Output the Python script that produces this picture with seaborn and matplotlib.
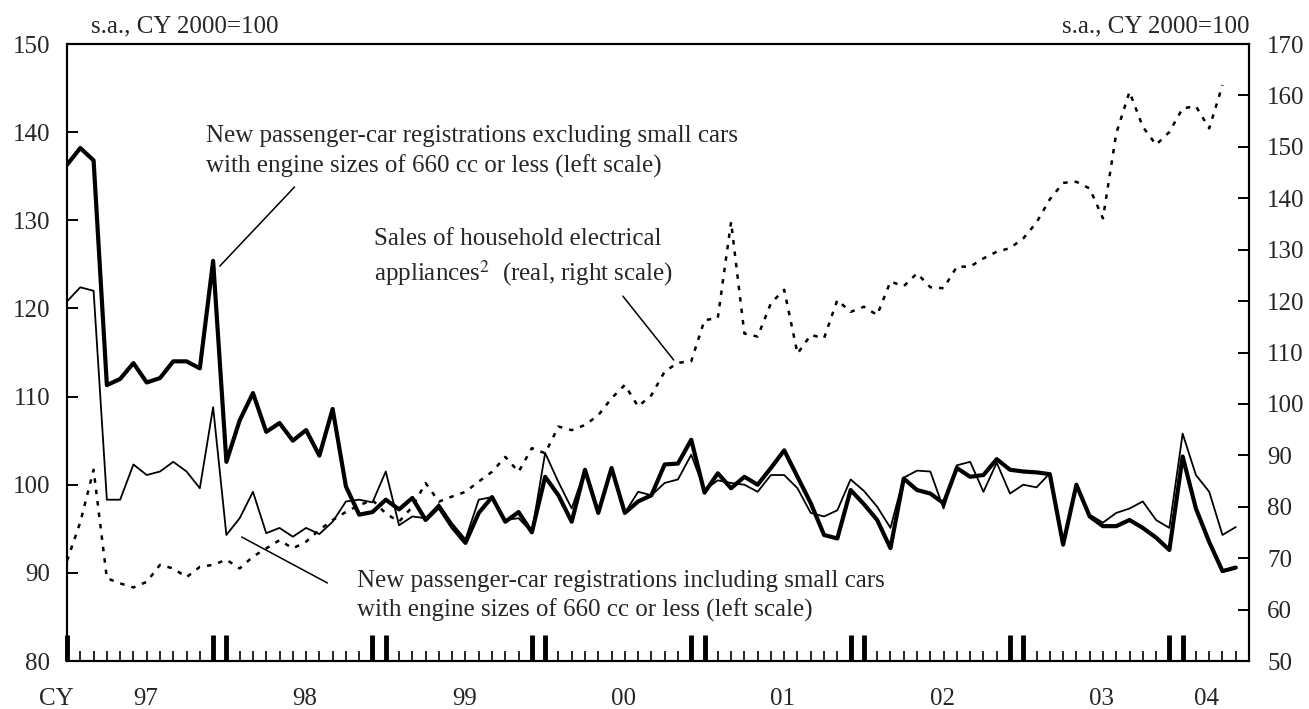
import numpy as np
import pandas as pd
import matplotlib
matplotlib.use("Agg")
import matplotlib.pyplot as plt
import seaborn as sns

# Monthly data, Jan 1997 onwards (s.a., CY 2000=100)
years = ["97", "98", "99", "00", "01", "02", "03", "04"]

excl_small = [
    136.3, 138.2, 136.8, 111.3, 112.0, 113.8, 111.6, 112.1, 114.0, 114.0, 113.2, 125.4,
    102.6, 107.3, 110.4, 106.0, 107.0, 105.0, 106.2, 103.3, 108.6, 99.8, 96.6, 96.9,
    98.3, 97.2, 98.5, 96.0, 97.5, 95.2, 93.4, 96.8, 98.6, 95.8, 96.9, 94.6,
    100.9, 98.8, 95.8, 101.7, 96.8, 101.9, 96.8, 98.1, 98.8, 102.3, 102.4, 105.1,
    99.1, 101.3, 99.6, 100.9, 100.0, 101.9, 103.9, 100.9, 97.9, 94.3, 93.9, 99.4,
    97.8, 96.0, 92.8, 100.7, 99.4, 99.0, 97.9, 101.9, 100.9, 101.1, 102.9, 101.7,
    101.5, 101.4, 101.2, 93.2, 100.0, 96.4, 95.3, 95.3, 96.0, 95.1, 94.0, 92.6,
    103.2, 97.3, 93.5, 90.2, 90.6,
]

incl_small = [
    120.8, 122.4, 122.0, 98.3, 98.3, 102.3, 101.1, 101.5, 102.6, 101.5, 99.6, 108.8,
    94.3, 96.2, 99.2, 94.5, 95.1, 94.1, 95.1, 94.4, 95.8, 98.1, 98.3, 98.0,
    101.5, 95.4, 96.4, 96.2, 97.8, 95.6, 93.8, 98.3, 98.6, 96.0, 96.2, 94.6,
    103.6, 100.3, 97.3, 101.7, 96.8, 101.9, 96.8, 99.2, 98.8, 100.2, 100.6, 103.4,
    99.4, 100.5, 100.2, 100.0, 99.2, 101.1, 101.1, 99.6, 96.8, 96.4, 97.1, 100.6,
    99.3, 97.5, 95.1, 100.8, 101.6, 101.5, 97.3, 102.2, 102.6, 99.2, 102.5, 99.0,
    100.0, 99.7, 101.3, 93.2, 100.0, 96.6, 95.7, 96.8, 97.3, 98.1, 96.0, 95.1,
    105.8, 101.1, 99.2, 94.3, 95.2,
]

appliances = [
    69.5, 77.0, 87.2, 66.1, 65.1, 64.3, 65.4, 68.7, 68.0, 66.3, 68.3, 68.7,
    69.7, 68.0, 70.3, 71.9, 73.5, 71.9, 73.2, 75.5, 77.4, 79.0, 80.3, 81.3,
    78.7, 77.1, 80.0, 84.6, 81.0, 82.0, 82.9, 84.9, 86.8, 89.7, 86.8, 91.4,
    90.4, 95.6, 94.9, 95.9, 97.8, 101.1, 103.7, 99.5, 101.7, 106.3, 108.0, 108.3,
    116.3, 116.7, 135.4, 113.7, 113.1, 119.6, 122.2, 109.8, 113.4, 112.8, 120.2, 117.9,
    118.9, 117.3, 123.8, 122.9, 125.4, 122.7, 122.5, 126.7, 126.7, 128.3, 129.6, 130.3,
    132.2, 135.3, 139.8, 143.0, 143.2, 141.9, 136.1, 152.6, 160.7, 153.9, 150.4, 152.9,
    157.5, 157.9, 153.6, 162.0,
]

months = np.arange(len(excl_small))
cars = pd.DataFrame({"month": months, "excl": excl_small, "incl": incl_small})
elec = pd.DataFrame({"month": months[:len(appliances)], "sales": appliances})

sns.set_style("ticks")
plt.rcParams["font.family"] = ["Liberation Serif", "DejaVu Serif"]
plt.rcParams["font.size"] = 18
plt.rcParams["mathtext.fontset"] = "stix"

fig = plt.figure(figsize=(13.09, 7.09), dpi=100)
ax = fig.add_axes([0.0512, 0.0677, 0.9030, 0.8702])
ax2 = ax.twinx()

sns.lineplot(data=cars, x="month", y="incl", ax=ax, color="black", linewidth=1.3)
sns.lineplot(data=cars, x="month", y="excl", ax=ax, color="black", linewidth=3.0)
sns.lineplot(data=elec, x="month", y="sales", ax=ax2, color="black",
             linewidth=1.8, linestyle=(0, (1.8, 2.8)))

ax.set_xlim(0, 89)
ax.set_ylim(80, 150)
ax.set_yticks(range(80, 151, 10))
ax2.set_ylim(50, 170)
ax2.set_yticks(range(50, 171, 10))
for a in (ax, ax2):
    a.set_xlabel("")
    a.set_ylabel("")
    for s in a.spines.values():
        s.set_linewidth(1.5)
        s.set_color("black")

# year boundaries get thick double ticks, other months small ticks
big = [0] + [m for k in range(1, 8) for m in (12 * k - 1, 12 * k)]
ax.set_xticks(big)
ax.set_xticks([m for m in range(1, 89) if m not in big], minor=True)
ax.tick_params(axis="x", which="major", direction="in", length=19, width=3.5,
               labelbottom=False, color="black")
ax.tick_params(axis="x", which="minor", direction="in", length=7, width=1.2,
               color="black")
ax.tick_params(axis="y", direction="in", length=8, width=1.4, pad=12,
               labelsize=18, color="black")
ax2.tick_params(axis="y", direction="in", length=8, width=1.4, pad=13,
                labelsize=18, color="black")

xt = ax.get_xaxis_transform()
for k, yr in enumerate(years):
    pos = 12 * k + 5.9 if k < 7 else 85.8
    ax.text(pos, -0.062, yr, transform=xt, ha="center", va="center")
ax.text(-0.0093, -0.062, "CY", transform=ax.transAxes, ha="center", va="center")

ax.text(0.0203, 1.018, "s.a., CY 2000=100", transform=ax.transAxes,
        ha="left", va="baseline")
ax.text(1.0, 1.018, "s.a., CY 2000=100", transform=ax.transAxes,
        ha="right", va="baseline")

# series annotations with leader lines
ax.text(10.44, 138.94, "New passenger-car registrations excluding small cars", va="baseline")
ax.text(10.44, 135.36, "with engine sizes of 660 cc or less (left scale)", va="baseline")
ax.plot([17.13, 11.5], [133.78, 124.8], color="black", lw=1.1)

ax.text(23.14, 127.2, "Sales of household electrical", va="baseline")
ax.text(23.14, 123.2, "appliances$^{2}$  (real, right scale)", va="baseline")
ax.plot([41.85, 45.68], [121.4, 114.15], color="black", lw=1.1)

ax.text(21.8, 88.4, "New passenger-car registrations including small cars", va="baseline")
ax.text(21.8, 85.0, "with engine sizes of 660 cc or less (left scale)", va="baseline")
ax.plot([13.15, 19.61], [94.07, 88.85], color="black", lw=1.1)

fig.savefig("out.png", dpi=100)
